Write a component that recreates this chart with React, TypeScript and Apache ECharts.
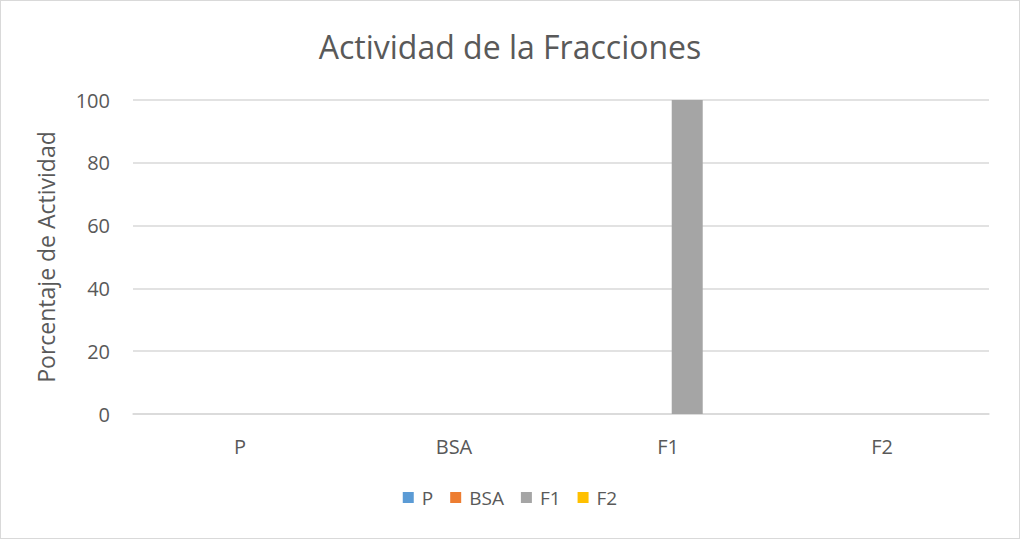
import React, { useEffect, useRef } from "react";
import * as echarts from "echarts";

const categories = ["P", "BSA", "F1", "F2"];
const seriesNames = ["P", "BSA", "F1", "F2"];
const valuesP = [0, 0, 0, 0];
const valuesBSA = [0, 0, 0, 0];
const valuesF1 = [0, 0, 100, 0];
const valuesF2 = [0, 0, 0, 0];
const colors = ["#5B9BD5", "#ED7D31", "#A5A5A5", "#FFC000"];
const yTicks = { min: 0, max: 100, interval: 20 };

export default function App() {
  const ref = useRef<HTMLDivElement>(null);
  useEffect(() => {
    document.body.style.margin = "0";
    const chart = echarts.init(ref.current!, null, { renderer: "svg" });
    const allValues = [valuesP, valuesBSA, valuesF1, valuesF2];
    const font = "'Open Sans', sans-serif";
    chart.setOption({
      animation: false,
      color: colors,
      title: {
        text: "Actividad de la Fracciones",
        left: "center",
        top: 24,
        textStyle: { fontFamily: font, fontSize: 32, fontWeight: "normal", color: "#595959" },
      },
      legend: {
        data: seriesNames,
        bottom: 26,
        left: "center",
        itemWidth: 11,
        itemHeight: 11,
        itemGap: 17,
        icon: "rect",
        textStyle: { fontFamily: font, fontSize: 19, color: "#595959", padding: [0, 0, 0, 3] },
      },
      grid: { left: 132, right: 30, top: 99, bottom: 124, containLabel: false },
      xAxis: {
        type: "category",
        data: categories,
        axisLine: { lineStyle: { color: "#D9D9D9", width: 1.5 } },
        axisTick: { show: false },
        axisLabel: { fontFamily: font, fontSize: 20, color: "#595959", margin: 22 },
      },
      yAxis: {
        type: "value",
        min: yTicks.min,
        max: yTicks.max,
        interval: yTicks.interval,
        name: "Porcentaje de Actividad",
        nameLocation: "middle",
        nameGap: 76,
        nameTextStyle: { fontFamily: font, fontSize: 23, color: "#595959" },
        axisLine: { show: false },
        axisTick: { show: false },
        splitLine: { lineStyle: { color: "#D9D9D9", width: 1.5 } },
        axisLabel: { fontFamily: font, fontSize: 20, color: "#595959", margin: 23 },
      },
      series: seriesNames.map((name, i) => ({
        name,
        type: "bar",
        data: allValues[i],
        barWidth: 31,
        barGap: "24%",
      })),
    });
    return () => chart.dispose();
  }, []);
  return (
    <div
      style={{
        position: "absolute",
        left: 0,
        top: 0,
        width: 1020,
        height: 539,
        boxSizing: "border-box",
        border: "1px solid #D9D9D9",
        background: "#fff",
      }}
    >
      <div ref={ref} style={{ width: 1018, height: 537 }} />
    </div>
  );
}
